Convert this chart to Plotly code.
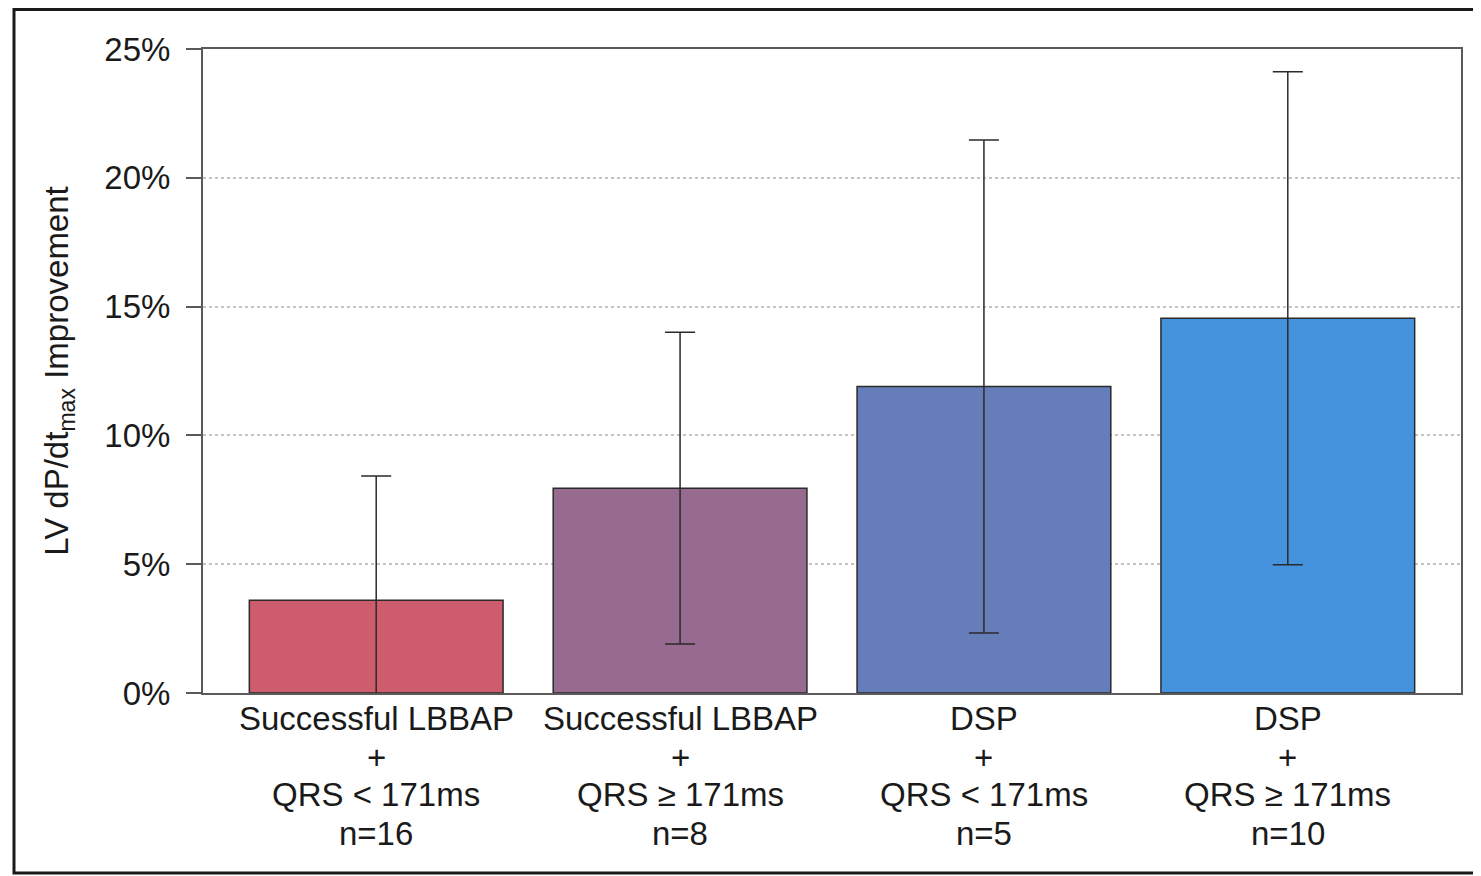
import plotly.graph_objects as go

groups = [["Successful LBBAP", "+", "QRS < 171ms", "n=16"],
          ["Successful LBBAP", "+", "QRS ≥ 171ms", "n=8"],
          ["DSP", "+", "QRS < 171ms", "n=5"],
          ["DSP", "+", "QRS ≥ 171ms", "n=10"]]
means = [3.6, 7.95, 11.9, 14.55]
errors = [4.82, 6.05, 9.57, 9.57]
colors = ["#CD5D6C", "#976B8F", "#657EB9", "#4592DD"]
yticks = [0, 5, 10, 15, 20, 25]
ytick_labels = ["0%", "5%", "10%", "15%", "20%", "25%"]

xpos = list(range(len(groups)))

fig = go.Figure()
fig.add_trace(go.Bar(
    x=xpos, y=means,
    marker=dict(color=colors, line=dict(color="#2a2a2a", width=1.5)),
    error_y=dict(type="data", array=errors, visible=True,
                 color="#2a2a2a", thickness=1.5, width=15),
    width=0.835,
))

# figure drawn inside an 8px page margin
W, H = 1473, 868
l, r, t, b = 195, 20, 41, 183
pw, ph = W - l - r, H - t - b

def px_x(p):
    return (p - l) / pw

def px_y(p):
    return (H - b - p) / ph

fig.add_shape(type="rect", xref="paper", yref="paper",
              x0=px_x(6), x1=px_x(1490), y0=px_y(865), y1=px_y(1.5),
              line=dict(color="#1a1a1a", width=3), layer="above")

# multi-line category labels
line_y = [710, 749, 787, 825]
for xi, lines in zip(xpos, groups):
    for ln, yy in zip(lines, line_y):
        fig.add_annotation(x=xi, xref="x", y=px_y(yy), yref="paper",
                           text=ln, showarrow=False, xanchor="center",
                           yanchor="middle",
                           font=dict(size=33, color="#1a1a1a"))

fig.update_layout(
    width=W, height=H,
    margin=dict(l=l, r=r, t=t, b=b),
    plot_bgcolor="white", paper_bgcolor="white",
    showlegend=False,
    font=dict(family="Liberation Sans, Arial, sans-serif", color="#1a1a1a"),
)
fig.update_xaxes(
    range=[-0.57, 3.57],
    tickmode="array", tickvals=xpos, showticklabels=False,
    showline=True, linecolor="#5a5a5a", linewidth=2, mirror=True,
    showgrid=False, ticks="", zeroline=False,
)
fig.update_yaxes(
    range=[0, 25],
    tickmode="array", tickvals=yticks, ticktext=ytick_labels,
    tickfont=dict(size=33, color="#1a1a1a"),
    ticks="outside", ticklen=15, tickwidth=2, tickcolor="#5a5a5a",
    ticklabelstandoff=9,
    showline=True, linecolor="#5a5a5a", linewidth=2, mirror=True,
    showgrid=True, gridcolor="#c4c4c4", gridwidth=2, griddash="dot",
    zeroline=False,
    title=dict(text="LV dP/dt<sub>max</sub> Improvement",
               font=dict(size=33, color="#1a1a1a"), standoff=26),
)

fig.write_html("out.html")
